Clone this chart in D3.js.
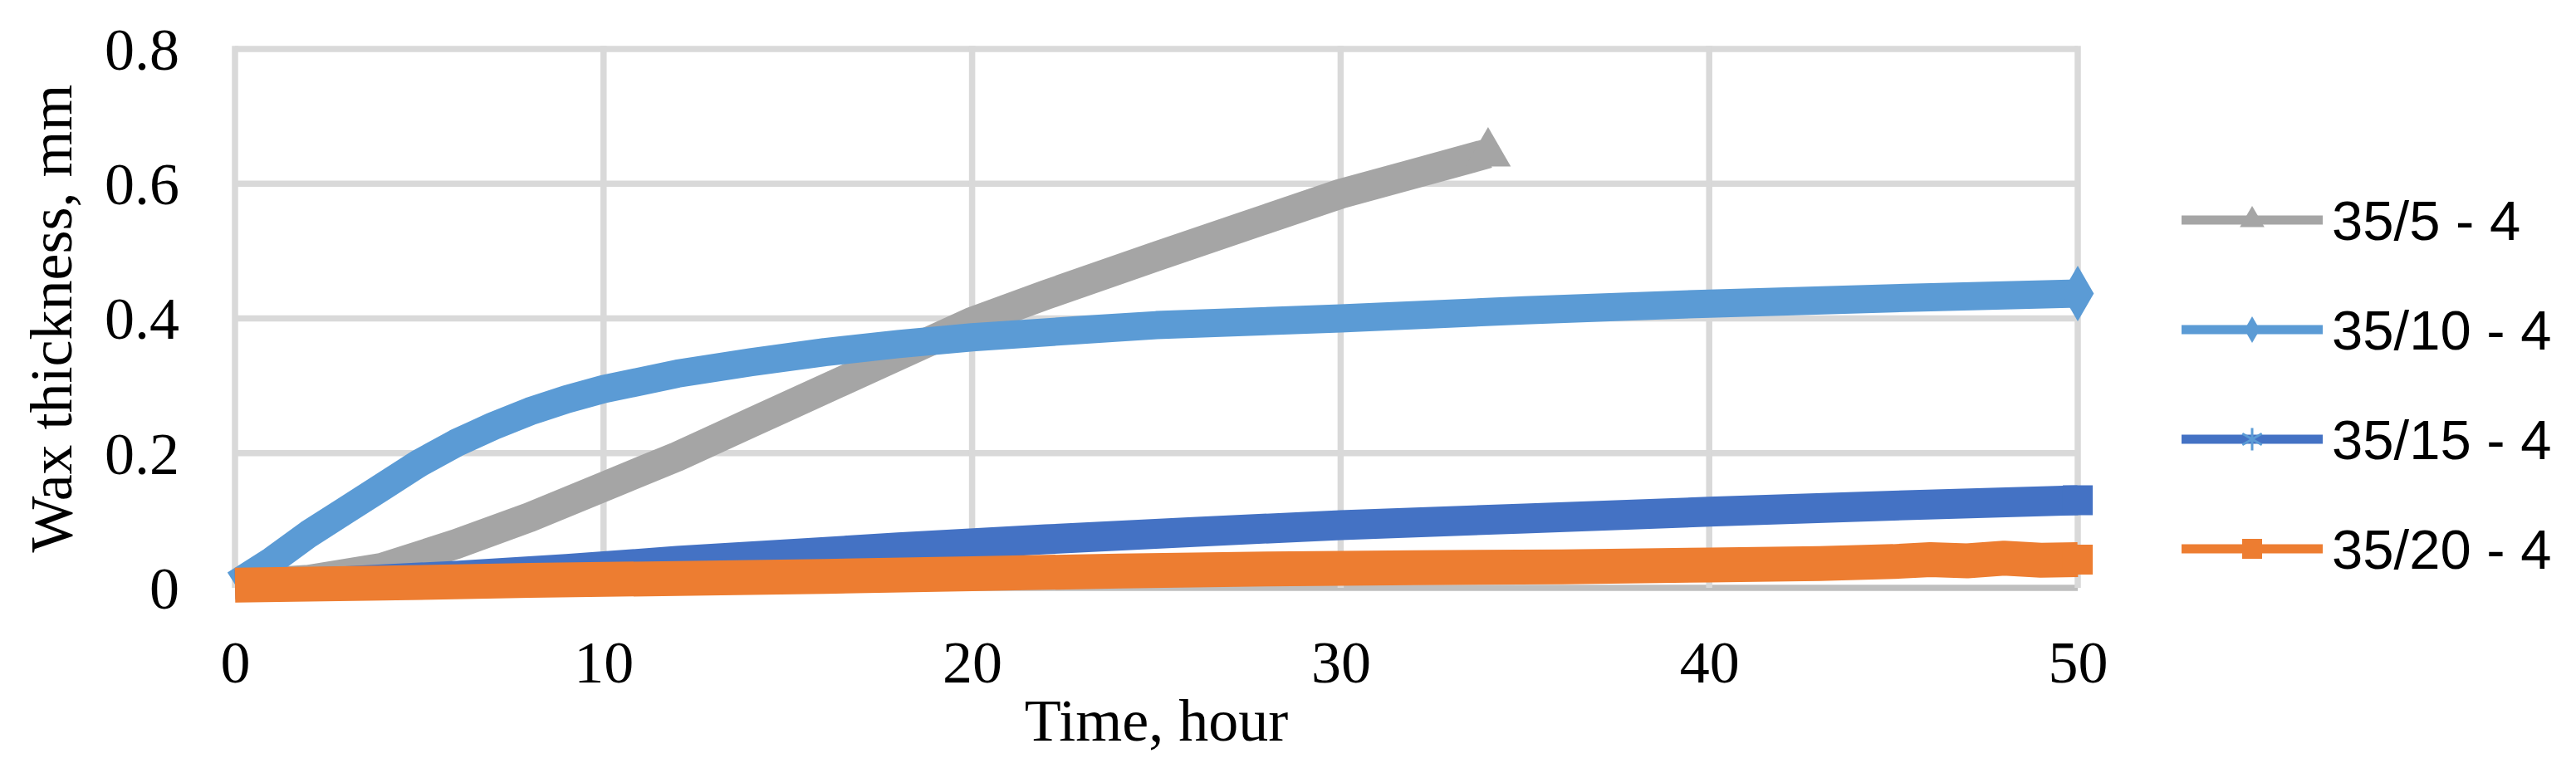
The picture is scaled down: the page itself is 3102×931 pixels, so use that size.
<!DOCTYPE html>
<html lang="en">
  <head>
    <meta charset="UTF-8" />
    <title>wax thickness</title>
    <script src="https://cdn.jsdelivr.net/npm/d3@7"></script>
    <style>
      body { margin: 0; background: #fff; }
    </style>
  </head>
  <body>
    <svg width="3102" height="931"></svg>
  </body>

  <script>
    // series labels + colours (Excel default palette)
    var seriesNames = ['35/5 - 4', '35/10 - 4', '35/15 - 4', '35/20 - 4'];
    var seriesColors = ['#a5a5a5', '#5b9bd5', '#4472c4', '#ed7d31'];

    // values (hour, mm)
    var hours5 = [0, 2, 4, 6, 8, 10, 12, 14, 16, 18, 20, 22, 25, 28, 30, 32, 34];
    var wax5 = [0.005, 0.012, 0.03, 0.065, 0.105, 0.15, 0.195, 0.245, 0.295, 0.345, 0.395, 0.435, 0.492, 0.548, 0.585, 0.615, 0.645];

    var hours10 = [0, 1, 2, 3, 4, 5, 6, 7, 8, 9, 10, 12, 14, 16, 18, 20, 23, 25, 30, 35, 40, 45, 50];
    var wax10 = [0.005, 0.04, 0.08, 0.115, 0.15, 0.185, 0.215, 0.24, 0.262, 0.28, 0.295, 0.318, 0.335, 0.35, 0.362, 0.372, 0.383, 0.39, 0.4, 0.412, 0.422, 0.43, 0.437];

    var hours15 = [0, 3, 6, 9, 12, 15, 18, 22, 26, 30, 35, 40, 45, 50];
    var wax15 = [0.005, 0.01, 0.018, 0.028, 0.04, 0.05, 0.06, 0.072, 0.083, 0.093, 0.103, 0.113, 0.122, 0.13];

    var hours20 = [0, 4, 8, 12, 16, 20, 24, 28, 32, 36, 40, 43, 45, 46, 47, 48, 49, 50];
    var wax20 = [0.004, 0.007, 0.011, 0.014, 0.017, 0.021, 0.025, 0.028, 0.03, 0.031, 0.034, 0.036, 0.039, 0.042, 0.04, 0.044, 0.041, 0.042];

    var xTicks = [0, 10, 20, 30, 40, 50];
    var yTicks = [0, 0.2, 0.4, 0.6, 0.8];

    var allHours = [hours5, hours10, hours15, hours20];
    var allWax = [wax5, wax10, wax15, wax20];
    var markerTypes = [d3.symbolTriangle, d3.symbolDiamond, d3.symbolAsterisk, d3.symbolSquare];

    var svg = d3.select('svg');

    var plot = { left: 283, right: 2502, top: 59, bottom: 708 };

    var x = d3.scaleLinear().domain([0, 50]).range([plot.left, plot.right]);
    var y = d3.scaleLinear().domain([0, 0.8]).range([plot.bottom, plot.top]);

    // grid
    var grid = svg.append('g');
    grid.selectAll('.gy')
      .data(yTicks)
      .enter()
      .append('line')
      .attr('x1', plot.left)
      .attr('x2', plot.right)
      .attr('y1', function (d) { return y(d); })
      .attr('y2', function (d) { return y(d); })
      .attr('stroke', function (d) { return d === 0 ? '#bfbfbf' : '#d9d9d9'; })
      .attr('stroke-width', 7.5);
    grid.selectAll('.gx')
      .data(xTicks)
      .enter()
      .append('line')
      .attr('x1', function (d) { return x(d); })
      .attr('x2', function (d) { return x(d); })
      .attr('y1', plot.top - 3.75)
      .attr('y2', plot.bottom)
      .attr('stroke', '#d9d9d9')
      .attr('stroke-width', 7.5);

    // axes (labels only, Excel style)
    var axisY = d3.axisLeft(y).tickValues(yTicks).tickSize(0).tickPadding(67)
      .tickFormat(function (d) { return d === 0 ? '0' : d3.format('.1f')(d); });
    var gy = svg.append('g').attr('transform', 'translate(' + plot.left + ',0)').call(axisY);
    gy.select('.domain').remove();
    gy.selectAll('text')
      .attr('font-family', '"Liberation Serif", "Times New Roman", serif')
      .attr('font-size', 72)
      .attr('fill', '#000')
      .attr('dy', '0.34em');

    var axisX = d3.axisBottom(x).tickValues(xTicks).tickSize(0).tickPadding(0);
    var gx = svg.append('g').attr('transform', 'translate(0,' + 822 + ')').call(axisX);
    gx.select('.domain').remove();
    gx.selectAll('text')
      .attr('font-family', '"Liberation Serif", "Times New Roman", serif')
      .attr('font-size', 72)
      .attr('fill', '#000')
      .attr('y', 0)
      .attr('dy', 0);

    // axis titles
    svg.append('text')
      .attr('x', (plot.left + plot.right) / 2)
      .attr('y', 892)
      .attr('text-anchor', 'middle')
      .attr('font-family', '"Liberation Serif", "Times New Roman", serif')
      .attr('font-size', 72)
      .text('Time, hour');

    svg.append('text')
      .attr('transform', 'translate(86,' + (plot.top + plot.bottom) / 2 + ') rotate(-90)')
      .attr('text-anchor', 'middle')
      .attr('font-family', '"Liberation Serif", "Times New Roman", serif')
      .attr('font-size', 72)
      .text('Wax thickness, mm');

    // series (dense markers in the original make a thick band)
    var widths = [36, 34, 36, 42];
    var line = d3.line()
      .x(function (d) { return x(d[0]); })
      .y(function (d) { return y(d[1]); });

    var lines = svg.append('g');
    allHours.forEach(function (hs, i) {
      var pts = hs.map(function (h, j) { return [h, allWax[i][j]]; });
      lines.append('path')
        .attr('d', line(pts))
        .attr('fill', 'none')
        .attr('stroke', seriesColors[i])
        .attr('stroke-width', widths[i])
        .attr('stroke-linejoin', 'round');
      // marker at the end of the series
      var last = pts[pts.length - 1];
      lines.append('path')
        .attr('d', d3.symbol().type(markerTypes[i] === d3.symbolAsterisk ? d3.symbolSquare : markerTypes[i]).size(1300)())
        .attr('transform', 'translate(' + x(last[0]) + ',' + y(last[1]) + ')')
        .attr('fill', seriesColors[i]);
    });

    // legend
    var rowY = [265, 397, 529, 661];
    var legend = svg.append('g');
    var rows = legend.selectAll('g').data(seriesNames).enter().append('g')
      .attr('transform', function (d, i) { return 'translate(0,' + rowY[i] + ')'; });
    rows.append('line')
      .attr('x1', 2627)
      .attr('x2', 2797)
      .attr('stroke', function (d, i) { return seriesColors[i]; })
      .attr('stroke-width', 11);
    rows.append('path')
      .attr('transform', 'translate(2712,0)')
      .attr('d', function (d, i) { return d3.symbol().type(markerTypes[i]).size([380, 300, 520, 576][i])(); })
      .attr('fill', function (d, i) { return i === 2 ? 'none' : seriesColors[i]; })
      .attr('stroke', function (d, i) { return i === 2 ? '#5b9bd5' : 'none'; })
      .attr('stroke-width', 3);
    rows.append('text')
      .attr('x', 2808)
      .attr('dy', '0.36em')
      .attr('font-family', '"Liberation Sans", Arial, sans-serif')
      .attr('font-size', 67)
      .attr('fill', '#000')
      .text(function (d) { return d; });
  </script>
</html>
